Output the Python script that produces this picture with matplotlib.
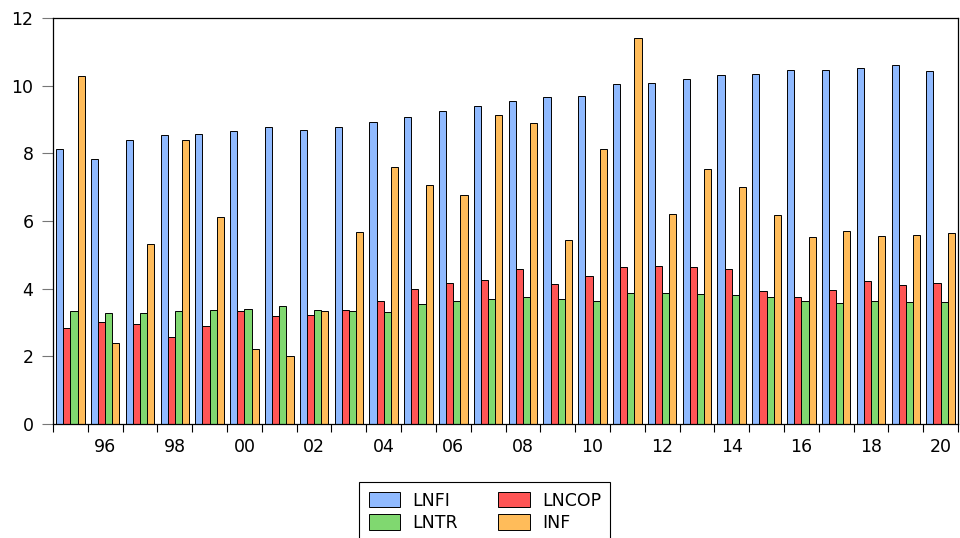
import matplotlib
matplotlib.use('Agg')
from matplotlib import pyplot as plt
import numpy as np

plt.rcParams['font.family'] = ['DejaVu Sans']

YEARS = list(range(1995, 2021))
LNFI = [8.14, 7.84, 8.39, 8.55, 8.58, 8.66, 8.79, 8.70, 8.79, 8.94, 9.08, 9.26, 9.41,
        9.56, 9.66, 9.70, 10.04, 10.09, 10.21, 10.32, 10.35, 10.45, 10.45, 10.51, 10.62, 10.43]
LNCOP = [2.85, 3.02, 2.95, 2.57, 2.89, 3.34, 3.20, 3.22, 3.37, 3.63, 3.99, 4.17, 4.27,
         4.58, 4.13, 4.38, 4.65, 4.66, 4.65, 4.58, 3.93, 3.76, 3.97, 4.23, 4.12, 4.16]
LNTR = [3.35, 3.27, 3.28, 3.34, 3.36, 3.39, 3.48, 3.37, 3.33, 3.30, 3.55, 3.65, 3.69,
        3.76, 3.69, 3.63, 3.87, 3.87, 3.84, 3.81, 3.75, 3.63, 3.58, 3.64, 3.60, 3.60]
INF = [10.30, 2.38, 5.31, 8.40, 6.11, 2.21, 2.01, 3.34, 5.67, 7.60, 7.05, 6.77, 9.12,
       8.91, 5.44, 8.13, 11.40, 6.22, 7.54, 7.00, 6.19, 5.52, 5.71, 5.55, 5.59, 5.65]

SERIES = [("LNFI", LNFI, "#90BAFF"), ("LNCOP", LNCOP, "#FF5555"),
          ("LNTR", LNTR, "#80D870"), ("INF", INF, "#FFBC5A")]

fig = plt.figure(figsize=(9.6, 5.38), dpi=100)
ax = fig.add_axes([53/960, 1-424/538, (958-53)/960, (424-18)/538])

x = np.arange(len(YEARS))
W = 0.205
BARS = []
for i, (name, vals, col) in enumerate(SERIES):
    b = ax.bar(x + (i - 1.5)*W, vals, W, color=col, edgecolor='black', linewidth=0.7, label=name)
    BARS.append(b)

ax.set_xlim(-0.5, len(YEARS) - 0.5)
ax.set_ylim(0, 12)
ax.set_yticks(np.arange(0, 13, 2))
ax.tick_params(axis='y', direction='out', length=8, width=0.8, color='#777777', labelsize=12.5, pad=6)

# boundary ticks without labels, labels on even years at group centre
ax.set_xticks(np.arange(-0.5, len(YEARS), 1.0))
ax.set_xticklabels([])
ax.tick_params(axis='x', which='major', direction='out', length=6, width=0.8, color='black')
LAB_POS = [i for i, y in enumerate(YEARS) if y % 2 == 0]
ax.set_xticks(LAB_POS, minor=True)
ax.set_xticklabels(["%02d" % (YEARS[i] % 100) for i in LAB_POS], minor=True)
ax.tick_params(axis='x', which='minor', length=0, labelsize=12.5, pad=10)

for s in ax.spines.values():
    s.set_linewidth(0.9)

# row-wise order: LNFI LNCOP / LNTR INF
ORDER = [0, 2, 1, 3]
leg = ax.legend([BARS[k] for k in ORDER], [SERIES[k][0] for k in ORDER],
                ncol=2, loc='upper left', bbox_to_anchor=(359/960, 1-482/538),
                bbox_transform=fig.transFigure, borderaxespad=0, fontsize=12.5,
                handlelength=1.8, handleheight=1.0, handletextpad=0.7, columnspacing=2.35,
                labelspacing=0.25, borderpad=0.55, fancybox=False, framealpha=1, edgecolor='black')
leg.get_frame().set_linewidth(0.8)

fig.savefig("out.png", dpi=100)
